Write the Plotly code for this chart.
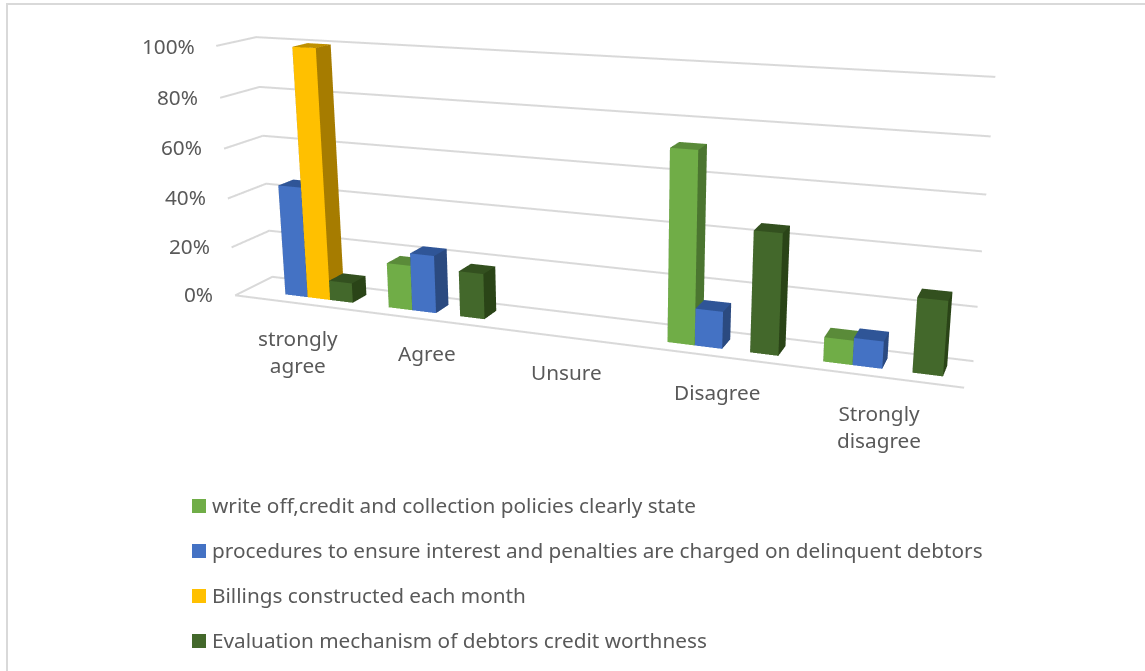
import plotly.graph_objects as go
W,H=1145,671
cats=["strongly<br>agree","Agree","Unsure","Disagree","Strongly<br>disagree"]
names=["write off,credit and collection policies clearly state","procedures to ensure interest and penalties are charged on delinquent debtors","Billings constructed each month","Evaluation mechanism of debtors credit worthness"]
green=[0,18,0,72,9]
blue=[45,23,0,14,10]
yellow=[100,0,0,0,0]
dark=[8,18,0,45,27]
series=[green,blue,yellow,dark]
tick_labels=["100%","80%","60%","40%","20%","0%"]
front=[("#70AD47","#4B7530","#5A8B39"),("#4472C4","#2B4A80","#2F5597"),("#FFC000","#A67C00","#BF9000"),("#43682B","#2A4417","#33501F")]
# The canvas is taller than the page so the 3D view keeps the reference's narrow field of view.
CY=250
HH=1176
SHIFT=HH/2-CY
px=lambda x:x/W
py=lambda y:1-(y+SHIFT)/HH
traces=[]
def gl(xs,ys,zs):
    traces.append(go.Scatter3d(x=xs,y=ys,z=zs,mode="lines",line=dict(color="#D9D9D9",width=4),showlegend=False,hoverinfo="skip"))
for z in range(0,101,20):
    gl([0,0,5],[0,1,1],[z,z,z])
gl([0,5],[0,0],[0,0])
bw=.18;y0,y1=.3,.7
for s,vals in enumerate(series):
    X=[];Y=[];Z=[];I=[];J=[];K=[];FC=[]
    for c,v in enumerate(vals):
        if not v: continue
        a=c+.14+bw*s;b=a+bw;o=len(X)
        X+=[a,b,b,a,a,b,b,a];Y+=[y0,y0,y1,y1,y0,y0,y1,y1];Z+=[0,0,0,0,v,v,v,v]
        for (t,col) in [((0,1,5),0),((0,5,4),0),((1,2,6),1),((1,6,5),1),((4,5,6),2),((4,6,7),2),((0,4,7),1),((0,7,3),1)]:
            I.append(o+t[0]);J.append(o+t[1]);K.append(o+t[2]);FC.append(front[s][col])
    traces.append(go.Mesh3d(x=X,y=Y,z=Z,i=I,j=J,k=K,facecolor=FC,flatshading=True,name=names[s],lighting=dict(ambient=1,diffuse=0,specular=0,roughness=1,fresnel=0),hoverinfo="name"))
fig=go.Figure(traces)
ax=dict(visible=False)
fig.update_layout(width=W,height=HH,margin=dict(l=0,r=0,t=0,b=0),showlegend=False,paper_bgcolor="white",
 scene=dict(domain=dict(x=[55/W,1],y=[0,1]),bgcolor="rgba(0,0,0,0)",aspectmode="manual",aspectratio=dict(x=2.9642,y=0.2775,z=1.0364),
  xaxis=dict(ax,range=[0,5]),yaxis=dict(ax,range=[0,1]),zaxis=dict(ax,range=[0,100]),
  camera=dict(eye=dict(x=1.9199,y=-4.8618,z=1.2984),center=dict(x=0.1010,y=-0.0365,z=-0.1903),up=dict(x=0.0782,y=-0.2045,z=1))))
fnt=dict(family="Noto Sans",size=20.75,color="#595959")
for t,(x,y) in zip(tick_labels,[(197,46),(200,97),(204,147),(208,197),(212,246),(215,294)]):
    fig.add_annotation(text=t,x=px(x),y=py(y),xref="paper",yref="paper",showarrow=False,xanchor="right",yanchor="middle",font=fnt)
for t,(x,y) in zip(cats,[(298,351),(427,353),(566,372),(717,392),(879,426)]):
    fig.add_annotation(text=t,x=px(x),y=py(y),xref="paper",yref="paper",showarrow=False,xanchor="center",yanchor="middle",font=fnt)
for i,(t,col) in enumerate(zip(names,front)):
    y=506+45*i
    fig.add_shape(type="rect",xref="paper",yref="paper",x0=px(192),x1=px(206),y0=py(y-7),y1=py(y+7),fillcolor=col[0],line_width=0)
    fig.add_annotation(text=t,x=px(210),y=py(y-1),xref="paper",yref="paper",showarrow=False,xanchor="left",yanchor="middle",font=fnt)
fig.add_shape(type="line",xref="paper",yref="paper",x0=px(7),x1=px(7),y0=py(3),y1=py(671),line=dict(color="#D9D9D9",width=2))
fig.add_shape(type="line",xref="paper",yref="paper",x0=px(6),x1=px(1145),y0=py(4),y1=py(4),line=dict(color="#D9D9D9",width=2))
fig.write_html("out.html",config=dict(displayModeBar=False),post_script=f"document.body.style.margin='0';document.body.style.overflow='hidden';document.documentElement.style.overflow='hidden';document.querySelector('.plotly-graph-div').style.marginTop='{-SHIFT}px';")
